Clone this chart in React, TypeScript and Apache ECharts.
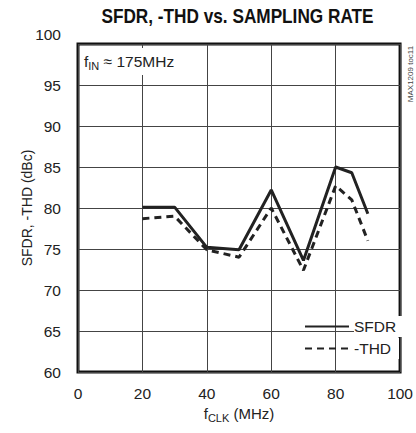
import React, { useEffect, useRef } from "react";
import * as echarts from "echarts";

const FONT = "'Liberation Sans', Arial, sans-serif";

const fclk = [20, 30, 40, 50, 60, 70, 80, 85, 90];
const sfdr = [80.1, 80.1, 75.2, 74.9, 82.2, 73.6, 85.0, 84.3, 79.3];
const thd = [78.7, 79.0, 74.9, 74.0, 80.0, 72.4, 82.7, 81.0, 76.0];

const xMin = 0;
const xMax = 100;
const xStep = 20;
const yMin = 60;
const yMax = 100;
const yStep = 5;

const seriesNames = ["SFDR", "-THD"];

export default function App() {
  const ref = useRef<HTMLDivElement>(null);
  useEffect(() => {
    if (!ref.current) return;
    const chart = echarts.init(ref.current, null, { renderer: "svg" });
    const option = {
      animation: false,
      backgroundColor: "#fff",
      title: [
        {
          text: "f{s|IN} ≈ 175MHz",
          left: 81,
          top: 48,
          padding: [3, 4, 4, 3],
          backgroundColor: "#fff",
          textStyle: {
            fontFamily: FONT,
            fontSize: 15.5,
            fontWeight: "normal",
            color: "#222",
            lineHeight: 20,
            rich: {
              s: { fontFamily: FONT, fontSize: 11, color: "#222", lineHeight: 10, verticalAlign: "bottom" },
            },
          },
        },
      ],
      legend: {
        orient: "vertical",
        left: 299,
        top: 311,
        itemWidth: 44,
        itemHeight: 12,
        itemGap: 1,
        selectedMode: false,
        data: seriesNames,
        itemStyle: { opacity: 0 },
        textStyle: {
          fontFamily: FONT,
          fontSize: 15.5,
          color: "#222",
          backgroundColor: "#fff",
          padding: [2, 8, 3, 0],
        },
      },
      grid: {
        left: 78,
        right: 11,
        top: 44,
        bottom: 61,
        show: true,
        borderColor: "#111",
        borderWidth: 3,
        backgroundColor: "transparent",
      },
      xAxis: {
        type: "value",
        min: xMin,
        max: xMax,
        interval: xStep,
        name: "f{s|CLK} (MHz)",
        nameLocation: "middle",
        nameGap: 31,
        nameMoveOverlap: false,
        nameTextStyle: {
          fontFamily: FONT,
          fontSize: 15,
          color: "#222",
          lineHeight: 20,
          rich: {
            s: { fontFamily: FONT, fontSize: 11, color: "#222", lineHeight: 10, verticalAlign: "bottom" },
          },
        },
        axisLine: { show: false },
        axisTick: { show: false },
        axisLabel: { fontFamily: FONT, fontSize: 15.5, color: "#222", margin: 13 },
        splitLine: { show: true, lineStyle: { color: "#444", width: 1 } },
      },
      yAxis: {
        type: "value",
        min: yMin,
        max: yMax,
        interval: yStep,
        name: "SFDR, -THD (dBc)",
        nameLocation: "middle",
        nameGap: 44,
        nameMoveOverlap: false,
        nameTextStyle: { fontFamily: FONT, fontSize: 14, color: "#222" },
        axisLine: { show: false },
        axisTick: { show: false },
        axisLabel: {
          fontFamily: FONT,
          fontSize: 15.5,
          color: "#222",
          margin: 17,
          formatter: (v: number) => (v === yMax ? "{up|" + v + "}" : String(v)),
          rich: {
            up: { fontFamily: FONT, fontSize: 15.5, color: "#222", padding: [0, 0, 20, 0] },
          },
        },
        splitLine: { show: true, lineStyle: { color: "#444", width: 1 } },
      },
      graphic: [
        {
          type: "text",
          x: 237.5,
          y: 16,
          scaleX: 0.82,
          style: {
            text: "SFDR, -THD vs. SAMPLING RATE",
            fontFamily: FONT,
            fontWeight: "bold",
            fontSize: 21,
            fill: "#111",
            align: "center",
            verticalAlign: "middle",
          },
        },
        {
          type: "text",
          x: 410,
          y: 74,
          rotation: Math.PI / 2,
          style: {
            text: "MAX1209 toc11",
            fontFamily: FONT,
            fontSize: 8,
            fill: "#444",
            align: "center",
            verticalAlign: "middle",
          },
        },
      ],
      series: [
        {
          name: seriesNames[0],
          type: "line",
          symbol: "none",
          data: fclk.map((x, i) => [x, sfdr[i]]),
          lineStyle: { color: "#222", width: 3, type: "solid" },
          itemStyle: { color: "#222" },
          z: 5,
        },
        {
          name: seriesNames[1],
          type: "line",
          symbol: "none",
          data: fclk.map((x, i) => [x, thd[i]]),
          lineStyle: { color: "#222", width: 3, type: [7, 5] },
          itemStyle: { color: "#222" },
          z: 4,
        },
      ],
    };
    chart.setOption(option as any);
    return () => chart.dispose();
  }, []);
  return (
    <div
      ref={ref}
      style={{ position: "absolute", left: 0, top: 0, width: 416, height: 433 }}
    />
  );
}
